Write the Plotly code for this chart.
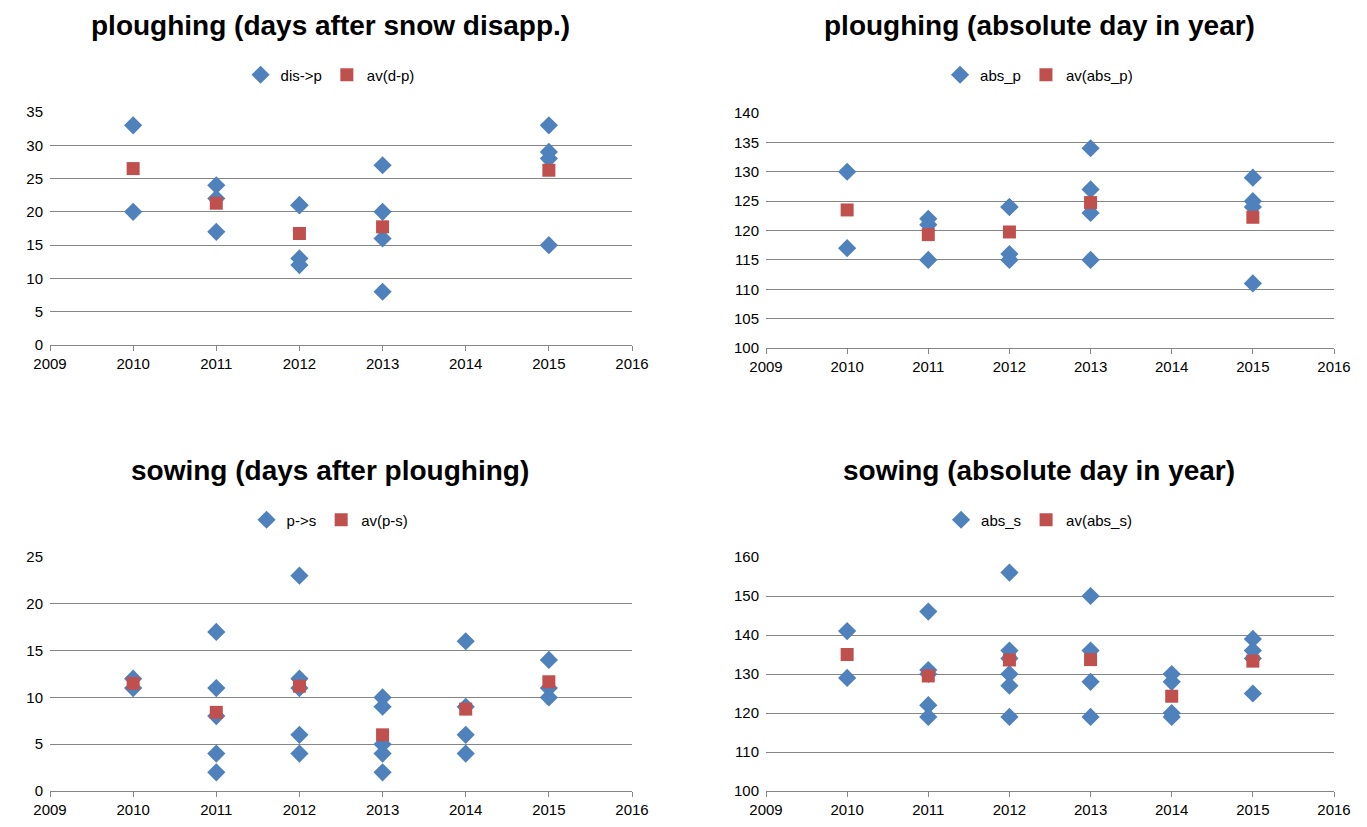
import plotly.graph_objects as go

# Panel 1: ploughing days after snow disappearance
p1_x = [2010,2010,2011,2011,2011,2012,2012,2012,2012,2013,2013,2013,2013,2015,2015,2015,2015]
p1_y = [33,20,24,22,17,21,13,12,21,27,20,16,8,33,29,28,15]
p1_avx = [2010,2011,2012,2013,2015]
p1_av = [26.5,21.3,16.75,17.75,26.25]
# Panel 2: ploughing absolute day
p2_x = [2010,2010,2011,2011,2011,2012,2012,2012,2012,2013,2013,2013,2013,2015,2015,2015,2015]
p2_y = [130,117,122,121,115,124,116,115,124,134,127,123,115,129,125,124,111]
p2_avx = [2010,2011,2012,2013,2015]
p2_av = [123.5,119.3,119.75,124.75,122.25]
# Panel 3: sowing days after ploughing
p3_x = [2010,2010,2011,2011,2011,2011,2011,2012,2012,2012,2012,2012,2013,2013,2013,2013,2013,2014,2014,2014,2014,2015,2015,2015]
p3_y = [12,11,17,11,8,4,2,23,12,11,6,4,10,9,5,4,2,16,9,6,4,14,11,10]
p3_avx = [2010,2011,2012,2013,2014,2015]
p3_av = [11.5,8.4,11.2,6.0,8.75,11.67]
# Panel 4: sowing absolute day
p4_x = [2010,2010,2011,2011,2011,2011,2011,2012,2012,2012,2012,2012,2012,2013,2013,2013,2013,2014,2014,2014,2014,2015,2015,2015,2015]
p4_y = [141,129,146,131,130,122,119,156,136,134,130,127,119,150,136,128,119,130,128,120,119,139,136,134,125]
p4_avx = [2010,2011,2012,2013,2014,2015]
p4_av = [135,129.5,133.6,133.7,124.3,133.3]

BLUE = "#4F81BD"; RED = "#C0504D"
W, H = 1367, 827
OFF = 8  # page offset
def xd(a, b): return [(a-OFF)/W, (b-OFF)/W]
def yd(top, bot): return [1-(bot-OFF)/H, 1-(top-OFF)/H]
panels = [
    (p1_x,p1_y,p1_avx,p1_av,"dis->p","av(d-p)","ploughing (days after snow disapp.)",[0,35],5,xd(50,632),yd(112,345),25,75),
    (p2_x,p2_y,p2_avx,p2_av,"abs_p","av(abs_p)","ploughing (absolute day in year)",[100,140],5,xd(766,1334),yd(113,348),25,75),
    (p3_x,p3_y,p3_avx,p3_av,"p->s","av(p-s)","sowing (days after ploughing)",[0,25],5,xd(50,632),yd(557,791),470,520),
    (p4_x,p4_y,p4_avx,p4_av,"abs_s","av(abs_s)","sowing (absolute day in year)",[100,160],10,xd(766,1334),yd(557,791),470,520),
]
fig = go.Figure()
layout = dict(width=W, height=H, margin=dict(l=0,r=0,t=0,b=0), plot_bgcolor="white",
              paper_bgcolor="white", font=dict(family="Liberation Sans", size=15, color="black"),
              annotations=[])
for i,(x,y,ax,av,n1,n2,title,yr,dt,xdom,ydom,ty,ly) in enumerate(panels, start=1):
    s = "" if i==1 else str(i)
    lg = "legend" if i==1 else f"legend{i}"
    fig.add_trace(go.Scatter(x=x,y=y,mode="markers",name=n1,xaxis="x"+s,yaxis="y"+s,legend=lg,
        marker=dict(symbol="diamond",size=14,color=BLUE)))
    fig.add_trace(go.Scatter(x=ax,y=av,mode="markers",name=n2,xaxis="x"+s,yaxis="y"+s,legend=lg,
        marker=dict(symbol="square",size=13,color=RED)))
    layout["xaxis"+s] = dict(domain=xdom, anchor="y"+s, range=[2009,2016], dtick=1, showgrid=False,
        showline=True, linecolor="#868686", ticks="outside", ticklen=5, tickcolor="#868686",
        zeroline=False, automargin=False)
    layout["yaxis"+s] = dict(domain=ydom, anchor="x"+s, range=yr, dtick=dt, showgrid=True, gridcolor="#868686",
        showline=False, zeroline=False, ticks="", ticklabelstandoff=6, automargin=False)
    cx = (xdom[0]+xdom[1])/2 - 0.008
    layout["annotations"].append(dict(text="<b>"+title+"</b>", x=cx, y=1-(ty-OFF)/H, xref="paper", yref="paper",
        showarrow=False, font=dict(size=28, family="Liberation Sans"), xanchor="center", yanchor="middle"))
    layout[lg] = dict(orientation="h", x=cx, xanchor="center", y=1-(ly-OFF)/H, yanchor="middle",
        font=dict(size=15), bgcolor="rgba(0,0,0,0)", itemwidth=30)
fig.update_layout(**layout)
fig.write_html("out.html")
